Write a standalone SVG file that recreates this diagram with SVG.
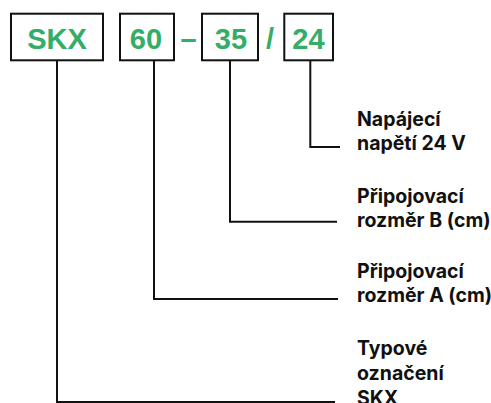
<svg xmlns="http://www.w3.org/2000/svg" width="491" height="403" viewBox="0 0 491 403">
<style>
.box{fill:#fff;stroke:#111;stroke-width:2}
.code{font-family:"Liberation Sans",Arial,sans-serif;font-weight:bold;font-size:29px;fill:#33ad67;text-anchor:middle}
.lbl{font-family:Inter,"Liberation Sans",sans-serif;font-weight:700;font-size:19.5px;fill:#111}
.conn{fill:none;stroke:#111;stroke-width:2}
</style>
<rect width="491" height="403" fill="#fff"/>
<g id="connectors">
<polyline class="conn" points="310.3,61 310.3,147 340,147"/>
<polyline class="conn" points="230,61 230,221.7 337,221.7"/>
<polyline class="conn" points="154,61 154,299 338,299"/>
<polyline class="conn" points="57,61 57,402 335,402"/>
</g>
<g id="node-skx">
<rect class="box" x="11" y="13.7" width="92" height="46.6"/>
<text class="code" x="57" y="49">SKX</text>
</g>
<g id="node-60">
<rect class="box" x="120" y="13.7" width="54" height="46.6"/>
<text class="code" x="146" y="49">60</text>
</g>
<g id="sep-dash">
<text class="code" x="188.5" y="49">–</text>
</g>
<g id="node-35">
<rect class="box" x="202" y="13.7" width="56" height="46.6"/>
<text class="code" x="231" y="49">35</text>
</g>
<g id="sep-slash">
<text class="code" x="270" y="49">/</text>
</g>
<g id="node-24">
<rect class="box" x="284.3" y="13.7" width="48.7" height="46.6"/>
<text class="code" x="308.5" y="49">24</text>
</g>
<g id="label-24">
<text class="lbl" x="357" y="126">Napájecí</text>
<text class="lbl" x="357" y="150">napětí 24 V</text>
</g>
<g id="label-35">
<text class="lbl" x="357" y="203">Připojovací</text>
<text class="lbl" x="357" y="227">rozměr B (cm)</text>
</g>
<g id="label-60">
<text class="lbl" x="357" y="278">Připojovací</text>
<text class="lbl" x="357" y="302">rozměr A (cm)</text>
</g>
<g id="label-skx">
<text class="lbl" x="357" y="355">Typové</text>
<text class="lbl" x="357" y="380">označení</text>
<text class="lbl" x="357" y="405">SKX</text>
</g>
</svg>
